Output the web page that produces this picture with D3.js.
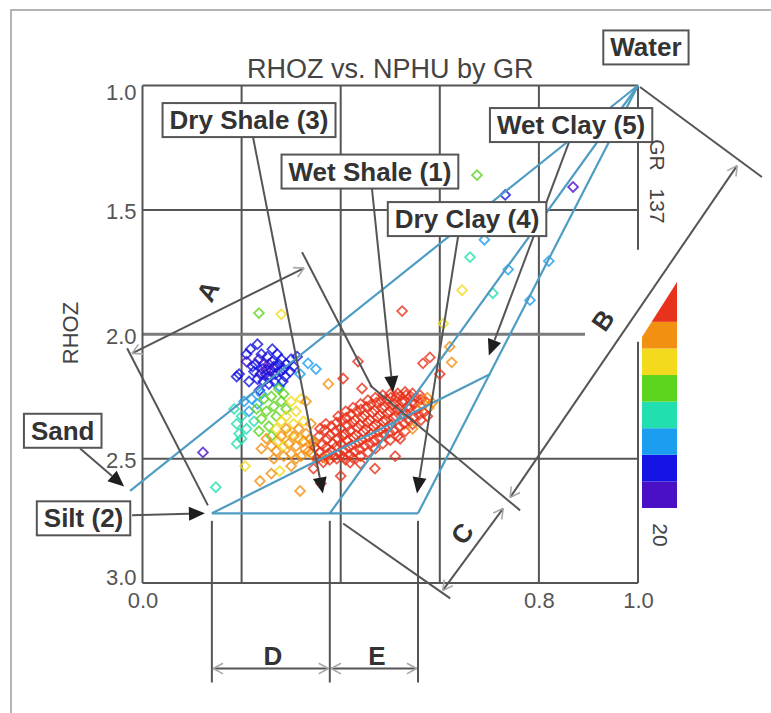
<!DOCTYPE html>
<html>
<head>
<meta charset="utf-8">
<script src="https://cdn.jsdelivr.net/npm/d3@7"></script>
<style>
  html, body { margin: 0; padding: 0; background: #fff; }
  svg { display: block; font-family: "Liberation Sans", Arial, Helvetica, sans-serif; }
</style>
</head>
<body>
<svg id="chart" width="771" height="713"></svg>
<script>
// ---------------- chart data ----------------
const title = "RHOZ vs. NPHU by GR";
const yLabel = "RHOZ";
const xTicks = [0.0, 0.8, 1.0];
const yTicks = [1.0, 1.5, 2.0, 2.5, 3.0];
const xGrid = [0.2, 0.4, 0.6, 0.8];
const yGrid = [1.5, 2.0, 2.5];

// GR colour scale (API units), low to high
const grDomain = [20, 137];
const grLabels = ["20", "137"];
const grColors = ["#4a10c6", "#1414e4", "#1c9ef0", "#22dfb0", "#5cd31c", "#f3da1c", "#f29012", "#e8321c"];

// samples: [NPHU, RHOZ, GR]
const lowGR = [
  [0.218,2.06,38],[0.232,2.04,42],[0.262,2.06,40],[0.195,2.16,36],[0.21,2.11,30],[0.222,2.13,36],
  [0.235,2.10,34],[0.244,2.12,28],[0.252,2.09,38],[0.262,2.11,35],[0.27,2.13,40],[0.28,2.10,43],
  [0.29,2.12,45],[0.30,2.10,47],[0.312,2.09,48],[0.225,2.15,39],[0.238,2.16,33],[0.25,2.14,31],
  [0.258,2.17,36],[0.268,2.16,41],[0.278,2.15,44],[0.288,2.17,46],[0.298,2.15,47],[0.232,2.18,42],
  [0.244,2.19,37],[0.255,2.20,44],[0.266,2.19,46],[0.24,2.08,40],[0.255,2.12,29],[0.272,2.08,42],
  [0.285,2.14,39],[0.248,2.16,27],[0.26,2.145,32],[0.215,2.19,48],[0.305,2.13,49],[0.276,2.21,50],
  [0.21,2.08,45],[0.19,2.17,41],[0.122,2.475,30],[0.236,2.225,46],
  [0.228,2.12,37],[0.242,2.14,35],[0.265,2.13,38],[0.275,2.12,41],[0.252,2.175,40],[0.283,2.19,47],
  [0.732,1.44,40],[0.869,1.408,30]
];
const midGR = [
  [0.185,2.30,66],[0.19,2.36,70],[0.195,2.40,64],[0.20,2.33,68],[0.205,2.27,60],[0.21,2.38,72],
  [0.215,2.31,62],[0.22,2.26,58],[0.225,2.35,66],[0.19,2.44,68],[0.2,2.42,74],[0.232,2.28,56],
  [0.24,2.24,54],[0.334,2.117,58],[0.35,2.14,62],[0.318,2.16,55],
  [0.23,2.30,84],[0.24,2.34,88],[0.245,2.26,80],[0.25,2.31,86],[0.255,2.37,90],[0.26,2.25,82],
  [0.265,2.29,85],[0.27,2.33,88],[0.275,2.22,80],[0.28,2.27,84],[0.285,2.24,82],[0.235,2.39,86],
  [0.26,2.41,92],[0.29,2.30,90],[0.148,2.615,66],[0.235,1.915,84],
  [0.675,1.36,84],[0.661,1.69,64],[0.738,1.74,56],[0.82,1.706,62],[0.707,1.835,72],
  [0.782,1.863,60],[0.752,1.56,70],[0.69,1.62,58]
];
const highGR = [
  [0.27,2.38,98],[0.28,2.35,96],[0.29,2.33,100],[0.295,2.40,102],[0.30,2.27,95],[0.305,2.36,104],
  [0.31,2.31,99],[0.315,2.42,106],[0.275,2.43,100],[0.32,2.26,97],[0.285,2.45,104],[0.325,2.35,103],
  [0.25,2.42,110],[0.26,2.45,112],[0.27,2.47,115],[0.28,2.41,114],[0.285,2.49,118],[0.295,2.44,116],
  [0.30,2.48,119],[0.31,2.45,117],[0.315,2.38,112],[0.32,2.49,120],[0.325,2.43,118],[0.33,2.40,115],
  [0.335,2.47,121],[0.34,2.36,113],[0.345,2.44,119],[0.35,2.50,121],[0.29,2.38,111],[0.265,2.50,116],
  [0.305,2.41,114],[0.24,2.46,109],[0.237,2.59,110],[0.277,2.55,104],[0.318,2.63,112],[0.207,2.53,98],
  [0.26,2.56,118],[0.30,2.53,115],[0.28,1.92,98],[0.607,1.957,104],[0.645,1.823,98],[0.62,2.05,112],
  [0.375,2.2,116],[0.33,2.27,110],[0.31,2.5,119],[0.328,2.46,120],[0.338,2.42,118]
];
const shaleGR = [
  [0.356,2.41,124],[0.362,2.445,128],[0.358,2.475,123],[0.364,2.495,126],
  [0.368,2.385,127],[0.373,2.42,131],[0.371,2.455,129],[0.375,2.48,125],[0.369,2.50,122],
  [0.381,2.37,130],[0.379,2.405,133],[0.384,2.44,128],[0.382,2.468,131],[0.386,2.49,124],
  [0.392,2.355,132],[0.389,2.39,135],[0.394,2.42,130],[0.391,2.452,134],[0.396,2.478,127],
  [0.402,2.345,129],[0.399,2.378,134],[0.404,2.41,136],[0.401,2.44,131],[0.406,2.468,126],
  [0.411,2.335,133],[0.414,2.368,136],[0.409,2.40,132],[0.413,2.428,135],[0.416,2.455,128],
  [0.421,2.322,131],[0.424,2.356,135],[0.419,2.388,137],[0.426,2.415,133],[0.422,2.445,130],
  [0.432,2.31,134],[0.429,2.345,136],[0.434,2.375,132],[0.431,2.405,135],[0.436,2.435,129],
  [0.441,2.302,133],[0.444,2.335,137],[0.439,2.362,134],[0.446,2.392,136],[0.442,2.425,130],
  [0.452,2.292,135],[0.449,2.325,132],[0.454,2.355,136],[0.451,2.382,134],[0.456,2.412,128],
  [0.461,2.282,132],[0.464,2.315,136],[0.459,2.345,133],[0.466,2.372,135],[0.462,2.40,129],
  [0.472,2.275,134],[0.469,2.305,137],[0.474,2.335,131],[0.471,2.362,135],[0.476,2.392,127],
  [0.481,2.268,133],[0.484,2.298,135],[0.479,2.325,136],[0.486,2.352,132],[0.482,2.382,128],
  [0.492,2.262,130],[0.489,2.29,134],[0.494,2.318,136],[0.491,2.345,131],[0.496,2.372,126],
  [0.501,2.255,131],[0.504,2.285,135],[0.499,2.31,133],[0.506,2.338,129],[0.502,2.362,125],
  [0.512,2.252,128],[0.509,2.278,133],[0.514,2.305,131],[0.511,2.33,127],
  [0.521,2.248,130],[0.524,2.272,132],[0.519,2.298,128],[0.526,2.322,125],
  [0.532,2.245,127],[0.529,2.268,131],[0.534,2.292,126],[0.531,2.315,123],
  [0.541,2.25,129],[0.544,2.272,125],[0.539,2.295,127],
  [0.552,2.255,124],[0.549,2.28,127],[0.554,2.302,123],
  [0.562,2.262,125],[0.565,2.288,122],[0.572,2.272,123],[0.578,2.295,122],
  [0.342,2.48,122],[0.348,2.455,123],[0.345,2.43,122],
  [0.365,2.515,125],[0.378,2.505,129],[0.392,2.50,131],[0.405,2.492,127],[0.418,2.485,132],
  [0.428,2.472,128],[0.438,2.462,131],[0.448,2.448,127],[0.458,2.438,133],[0.468,2.428,129],
  [0.478,2.418,131],[0.488,2.405,127],[0.498,2.395,130],[0.508,2.385,126],[0.518,2.372,128],
  [0.528,2.36,125],[0.538,2.348,127],[0.548,2.335,124],[0.558,2.325,126],[0.568,2.315,123],
  [0.575,2.33,124],[0.562,2.345,125],[0.545,2.362,123],[0.53,2.39,124],
  [0.41,2.505,124],[0.425,2.498,126],[0.44,2.49,123],[0.455,2.475,125],[0.47,2.46,124],
  [0.485,2.44,126],[0.50,2.425,123],[0.515,2.41,125],
  [0.395,2.33,128],[0.41,2.31,126],[0.425,2.295,129],[0.44,2.28,127],[0.455,2.265,130],
  [0.47,2.255,128],[0.485,2.245,126],[0.50,2.24,128],[0.515,2.238,126],[0.53,2.232,124],
  [0.545,2.238,123],[0.56,2.245,124],[0.575,2.255,122],[0.585,2.275,122],
  [0.352,2.50,124],[0.358,2.38,123],[0.37,2.36,126],
  [0.524,1.907,125],[0.566,2.117,124],[0.58,2.093,126],[0.624,2.113,122],[0.60,2.16,123],
  [0.419,2.516,128],[0.469,2.54,127],[0.51,2.49,125],[0.40,2.57,124],[0.44,2.52,126],
  [0.52,2.42,124],[0.545,2.38,122],[0.435,2.11,124],[0.405,2.178,123],[0.443,2.218,125],
  [0.345,2.54,123],[0.36,2.6,124]
];

// end members of the shale model: [NPHU, RHOZ]
const endMembers = {
  water:    [1.0, 1.0],
  sand:     [-0.025, 2.63],
  silt:     [0.14, 2.72],
  dryShale: [0.378, 2.72],
  dryClay:  [0.556, 2.72],
  wetClay:  [0.702, 2.16]
};
const modelLines = [
  ["sand", "water"], ["silt", "dryClay"], ["dryClay", "water"],
  ["silt", "wetClay"], ["dryShale", "water"]
];

// construction lines for the dimensions: [[NPHU, RHOZ], [NPHU, RHOZ]]
const guideLines = [
  [[-0.031, 2.056], [0.132, 2.688]],
  [[0.322, 1.670], [0.463, 2.213]],
  [[0.459, 2.205], [0.762, 2.708]],
  [[0.405, 2.761], [0.621, 3.062]],
  [[1.004, 1.006], [1.250, 1.368]],
  [[0.14, 2.75], [0.14, 3.40]],
  [[0.378, 2.75], [0.378, 3.40]],
  [[0.556, 2.75], [0.556, 3.40]]
];

// dimension arrows with their letters
const dimensions = [
  { id: "A", from: [-0.021, 2.077], to: [0.326, 1.734], at: [0.132, 1.827], rot: -62 },
  { id: "B", from: [0.742, 2.656],  to: [1.200, 1.322], at: [0.929, 1.944], rot: -55 },
  { id: "C", from: [0.606, 3.030],  to: [0.728, 2.700], at: [0.645, 2.801], rot: -54 },
  { id: "D", from: [0.143, 3.344],  to: [0.375, 3.344], at: [0.263, 3.292], rot: 0 },
  { id: "E", from: [0.381, 3.344],  to: [0.553, 3.344], at: [0.473, 3.292], rot: 0 }
];

// boxed callouts, with optional pointer [from -> to]
const callouts = [
  { text: "Water",         at: [1.016, 0.847] },
  { text: "Dry Shale (3)", at: [0.215, 1.139], from: [0.223, 1.207], to: [0.364, 2.640] },
  { text: "Wet Shale (1)", at: [0.459, 1.346], from: [0.463, 1.413], to: [0.5055, 2.233] },
  { text: "Dry Clay (4)",  at: [0.655, 1.537], from: [0.637, 1.606], to: [0.554, 2.640] },
  { text: "Wet Clay (5)",  at: [0.865, 1.159], from: [0.861, 1.227], to: [0.699, 2.085] },
  { text: "Sand",          at: [-0.161, 2.388], from: [-0.126, 2.459], to: [-0.037, 2.612] },
  { text: "Silt (2)",      at: [-0.119, 2.740], from: [-0.021, 2.728], to: [0.126, 2.720] }
];

// ---------------- drawing ----------------
const svg = d3.select("#chart");
const x = d3.scaleLinear().domain([0, 1]).range([142.5, 638]);
const y = d3.scaleLinear().domain([1, 3]).range([85.5, 583]);
const P = d => [x(d[0]), y(d[1])];
const ink = "#555";

// outer frame
svg.append("rect").attr("x", 11).attr("y", 10).attr("width", 820).attr("height", 820)
  .attr("fill", "none").attr("stroke", "#9c9c9c").attr("stroke-width", 1.5);

// title
svg.append("text").attr("x", (x(0) + x(1)) / 2).attr("y", 78)
  .attr("text-anchor", "middle").attr("font-size", 27).attr("fill", "#444").text(title);

// grid and frame
const grid = svg.append("g").attr("stroke", ink).attr("stroke-width", 2).attr("fill", "none");
xGrid.forEach(v => grid.append("line").attr("x1", x(v)).attr("x2", x(v)).attr("y1", y(1)).attr("y2", y(3)));
yGrid.forEach(v => grid.append("line")
  .attr("x1", x(0)).attr("x2", v === 2.0 ? x(0.893) : x(1))
  .attr("y1", y(v)).attr("y2", y(v))
  .attr("stroke", v === 2.0 ? "#7a7a7a" : ink).attr("stroke-width", v === 2.0 ? 3 : 2));
grid.append("line").attr("x1", x(0)).attr("x2", x(1)).attr("y1", y(1)).attr("y2", y(1));
grid.append("line").attr("x1", x(0)).attr("x2", x(1)).attr("y1", y(3)).attr("y2", y(3));
grid.append("line").attr("x1", x(0)).attr("x2", x(0)).attr("y1", y(1)).attr("y2", y(3));
grid.append("line").attr("x1", x(1)).attr("x2", x(1)).attr("y1", y(1)).attr("y2", y(1.66));
grid.append("line").attr("x1", x(1)).attr("x2", x(1)).attr("y1", y(2.03)).attr("y2", y(3));

// axes
const yAxis = svg.append("g").attr("transform", `translate(${x(0)},0)`)
  .call(d3.axisLeft(y).tickValues(yTicks).tickFormat(d3.format(".1f")).tickSize(0).tickPadding(6));
const xAxis = svg.append("g").attr("transform", `translate(0,${y(3)})`)
  .call(d3.axisBottom(x).tickValues(xTicks).tickFormat(d3.format(".1f")).tickSize(0).tickPadding(9));
[yAxis, xAxis].forEach(a => {
  a.select(".domain").remove();
  a.selectAll("text").attr("font-size", 22).attr("fill", ink)
    .attr("font-family", "Liberation Sans, Arial, sans-serif");
});
yAxis.selectAll(".tick text").attr("transform", d => `translate(0,${d === 1.0 ? 7 : d === 3.0 ? -6 : 2})`);

svg.append("text").attr("transform", `translate(78,${y(1.995)}) rotate(-90)`)
  .attr("text-anchor", "middle").attr("font-size", 22).attr("fill", "#444").text(yLabel);

// scatter of samples coloured by GR
const color = d3.scaleQuantize().domain(grDomain).range(grColors);
const diamond = d3.symbol().type(d3.symbolSquare).size(48)();
const samples = [].concat(lowGR, midGR, highGR, shaleGR);
svg.append("g").selectAll("path").data(samples).join("path")
  .attr("d", diamond)
  .attr("transform", d => `translate(${x(d[0])},${y(d[1])}) rotate(45)`)
  .attr("fill", "none").attr("stroke", d => color(d[2]))
  .attr("stroke-width", 1.8).attr("stroke-opacity", 0.8);

// shale model lines
svg.append("g").selectAll("line").data(modelLines).join("line")
  .attr("x1", d => x(endMembers[d[0]][0])).attr("y1", d => y(endMembers[d[0]][1]))
  .attr("x2", d => x(endMembers[d[1]][0])).attr("y2", d => y(endMembers[d[1]][1]))
  .attr("stroke", "#4f9cc3").attr("stroke-width", 2.2);

// construction lines
svg.append("g").selectAll("line").data(guideLines).join("line")
  .attr("x1", d => x(d[0][0])).attr("y1", d => y(d[0][1]))
  .attr("x2", d => x(d[1][0])).attr("y2", d => y(d[1][1]))
  .attr("stroke", ink).attr("stroke-width", 2);

// dimension arrows
const dimG = svg.append("g");
function chevron(g, tip, ang) {
  const L = 11, spread = 0.5;
  [ang + Math.PI - spread, ang + Math.PI + spread].forEach(a => {
    g.append("line").attr("x1", tip[0]).attr("y1", tip[1])
      .attr("x2", tip[0] + L * Math.cos(a)).attr("y2", tip[1] + L * Math.sin(a))
      .attr("stroke", "#a8a8a8").attr("stroke-width", 1.6);
  });
}
dimensions.forEach(d => {
  const a = P(d.from), b = P(d.to);
  dimG.append("line").attr("x1", a[0]).attr("y1", a[1]).attr("x2", b[0]).attr("y2", b[1])
    .attr("stroke", ink).attr("stroke-width", 2);
  const ang = Math.atan2(b[1] - a[1], b[0] - a[0]);
  chevron(dimG, b, ang);
  chevron(dimG, a, ang + Math.PI);
  const c = P(d.at);
  dimG.append("text").attr("transform", `translate(${c[0]},${c[1]}) rotate(${d.rot})`)
    .attr("text-anchor", "middle").attr("dy", "0.35em")
    .attr("font-size", 26).attr("font-weight", "bold").attr("fill", "#333").text(d.id);
});

// callout pointers with filled heads
const callG = svg.append("g");
callouts.filter(c => c.from).forEach(c => {
  const a = P(c.from), b = P(c.to);
  const ang = Math.atan2(b[1] - a[1], b[0] - a[0]);
  const len = 16, half = 7;
  const base = [b[0] - len * Math.cos(ang), b[1] - len * Math.sin(ang)];
  callG.append("line").attr("x1", a[0]).attr("y1", a[1]).attr("x2", base[0]).attr("y2", base[1])
    .attr("stroke", ink).attr("stroke-width", 2);
  const nx = -Math.sin(ang), ny = Math.cos(ang);
  callG.append("path")
    .attr("d", `M${b[0]},${b[1]}L${base[0] + half * nx},${base[1] + half * ny}L${base[0] - half * nx},${base[1] - half * ny}Z`)
    .attr("fill", "#1e1e1e");
});

// callout boxes
callouts.forEach(c => {
  const p = P(c.at);
  const g = svg.append("g");
  const rect = g.append("rect");
  const t = g.append("text").attr("x", p[0]).attr("y", p[1] + 9)
    .attr("text-anchor", "middle").attr("font-size", 26).attr("font-weight", "bold")
    .attr("fill", "#333").text(c.text);
  const w = t.node().getComputedTextLength() + 14;
  rect.attr("x", p[0] - w / 2).attr("y", p[1] - 17).attr("width", w).attr("height", 34)
    .attr("fill", "#fff").attr("stroke", ink).attr("stroke-width", 2);
});

// GR colour bar
const cb = svg.append("g");
const cbX = 642, cbW = 35;
const cbY = d3.scaleLinear().domain([20, 122.4, 137]).range([508, 321.8, 282]);
cb.append("clipPath").attr("id", "cbclip").append("path")
  .attr("d", `M${cbX},${cbY(114)}L${cbX + cbW},${cbY(137)}L${cbX + cbW},${cbY(20)}L${cbX},${cbY(20)}Z`);
const thresholds = [grDomain[0]].concat(color.thresholds(), [grDomain[1]]);
cb.append("g").attr("clip-path", "url(#cbclip)").selectAll("rect").data(grColors).join("rect")
  .attr("x", cbX).attr("width", cbW)
  .attr("y", (d, i) => cbY(thresholds[i + 1]))
  .attr("height", (d, i) => cbY(thresholds[i]) - cbY(thresholds[i + 1]))
  .attr("fill", d => d);
cb.append("text").attr("transform", "translate(657,155) rotate(90)")
  .attr("text-anchor", "middle").attr("dy", "0.35em").attr("font-size", 21).attr("fill", "#444").text("GR");
cb.append("text").attr("transform", "translate(657,206) rotate(90)")
  .attr("text-anchor", "middle").attr("dy", "0.35em").attr("font-size", 21).attr("fill", "#444").text(grLabels[1]);
cb.append("text").attr("transform", "translate(660,535) rotate(90)")
  .attr("text-anchor", "middle").attr("dy", "0.35em").attr("font-size", 21).attr("fill", "#444").text(grLabels[0]);
</script>
</body>
</html>
